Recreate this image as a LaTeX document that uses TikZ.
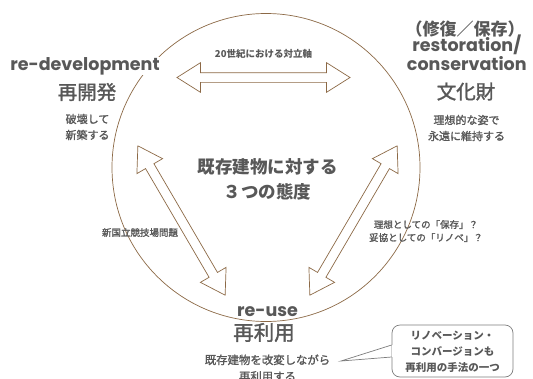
\documentclass[tikz,border=0pt]{standalone}
\usepackage{fontspec}
\setmainfont{Noto Sans CJK JP}
\newfontfamily\jpmed{Noto Sans CJK JP}[FakeBold=1.5]
\newfontfamily\pop{Poppins}
\usetikzlibrary{shapes.arrows}
\definecolor{txt}{RGB}{88,88,88}
\definecolor{brn}{RGB}{140,105,70}
\definecolor{cgray}{RGB}{125,125,125}
\begin{document}
\begin{tikzpicture}[x=1pt,y=-1pt,
  lat/.style={font=\pop\bfseries\fontsize{17.5}{15}\selectfont, text=txt, inner sep=0.5pt},
  jbig/.style={font=\jpmed\fontsize{19.5}{20}\selectfont, text=txt},
  jsm/.style={font=\jpmed\fontsize{11}{16}\selectfont, text=txt, align=center},
  jtiny/.style={font=\jpmed\fontsize{9.5}{13}\selectfont, text=txt, align=center},
  jmid/.style={font=\bfseries\fontsize{17.5}{25}\selectfont, text=txt, align=center},
  dbl/.style={double arrow, draw=brn, fill=white, line width=0.7pt,
    double arrow head extend=10pt, double arrow tip angle=64.5, minimum height=173pt,
    inner xsep=0pt, inner ysep=4.5pt}]
\useasboundingbox[fill=white] (0,0) rectangle (533,378);

% circle
\node[circle, draw=brn, line width=0.7pt, minimum size=308pt, inner sep=0pt] (ring) at (266,167.5) {};

% block arrows
\node[dbl] (atop) at (263.5,77.5) {};
\node[dbl, rotate=-59.7] (aleft) at (181.5,220.5) {};
\node[dbl, rotate=59.7] (aright) at (353.5,220.5) {};

% labels on arrows
\node[jtiny, font=\bfseries\fontsize{9.5}{13}\selectfont] (l20) at (263.5,54) {20世紀における対立軸};
\node[jtiny] (lshin) at (140,232.5) {新国立競技場問題};
\node[jtiny] (lriso) at (426,231) {理想としての「保存」？\\妥協としての「リノベ」？};

% center
\node[jmid] (center) at (267.5,179) {既存建物に対する\\３つの態度};

% left: re-development
\node[lat, anchor=base, fill=white] (redev) at (85,70) {re-development};
\node[jbig] (saikai) at (87,92) {再開発};
\node[jsm] (hakai) at (87.5,127) {破壊して\\新築する};

% right: restoration
\node[font=\bfseries\fontsize{17}{18}\selectfont, text=txt] (shufuku) at (465,29.5) {（修復／保存）};
\node[lat, align=center, anchor=base] (resto) at (466.8,70) {restoration/\\conservation};
\node[jbig] (bunka) at (466,91.5) {文化財};
\node[jsm] (riso) at (466.5,128) {理想的な姿で\\永遠に維持する};

% bottom: re-use
\node[lat, anchor=base, fill=white, inner xsep=3pt] (reuse) at (267.5,316) {re-use};
\node[jbig, font=\jpmed\fontsize{20.5}{21}\selectfont] (sairiyo) at (264,332.5) {再利用};
\node[jsm, font=\jpmed\fontsize{11.4}{16.5}\selectfont, anchor=north] (kaihen) at (267.5,351) {既存建物を改変しながら\\再利用する};

% callout
\node[draw=cgray, line width=0.7pt, rounded corners=8pt, minimum width=121pt, minimum height=52pt,
  inner sep=0pt] (cbox) at (452.5,351) {};
\node[font=\bfseries\fontsize{10.5}{16}\selectfont, text=txt, align=center] (ctext) at (452.5,352) {リノベーション・\\コンバージョンも\\再利用の手法の一つ};
\coordinate (ptip) at (341,361);
\fill[white] ([yshift=-6pt]cbox.west) -- ([xshift=1pt,yshift=-6pt]cbox.west) -- ([xshift=1pt,yshift=6pt]cbox.west) -- ([yshift=6pt]cbox.west) -- cycle;
\draw[cgray, line width=0.7pt, line join=miter] ([yshift=-6pt]cbox.west) -- (ptip) -- ([yshift=6pt]cbox.west);
\end{tikzpicture}
\end{document}
